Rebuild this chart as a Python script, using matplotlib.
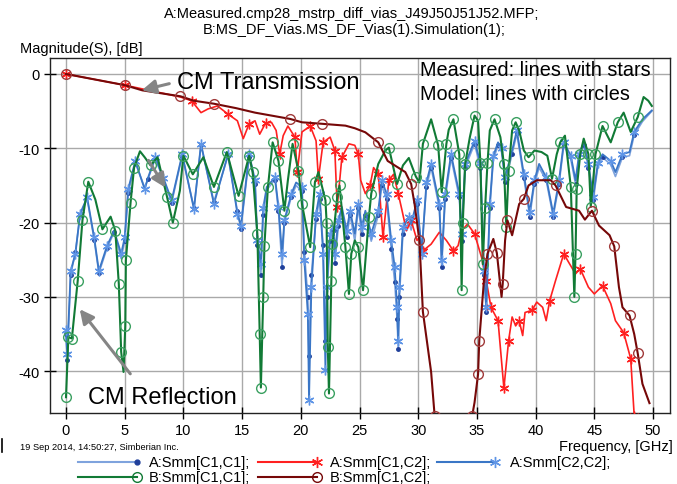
import numpy as np
import matplotlib
matplotlib.use("Agg")
import matplotlib.pyplot as plt
from matplotlib.lines import Line2D

plt.rcParams['font.family'] = ['Liberation Sans', 'DejaVu Sans']

# ---------------- data ----------------
nan = float('nan')

# B:Smm[C1,C2]  (model transmission, dark red, circles)
b12_f = [0, 5, 6.5, 9.75, 10.9, 12.6, 14.5, 16.1, 19.1, 20.1, 21.8, 23.8, 24.6, 25.5, 26.6, 27.4,
         28.9, 29.4, 29.7, 30.1, 30.4, 31.1, 31.4, 33.0, 34.6, 34.8, 35.1, 35.2, 35.6, 35.9, 36.4,
         36.7, 37.1, 37.2, 37.4, 37.6, 38.0, 38.6, 39.0, 39.4, 40.1, 41.3, 41.7, 42.6, 43.7, 44.2,
         44.8, 45.4, 46.3, 46.7, 47.1, 47.4, 48.0, 48.4, 48.7, 49.1, 49.7]
b12_v = [0, -1.5, -2.2, -3.0, -3.6, -4.0, -4.6, -5.2, -6.05, -6.5, -6.7, -6.95, -7.3, -7.85, -9.2, -11.7,
         -13.2, -14.8, -17.6, -22.4, -32.0, -40.1, -46.0, nan, -46.0, -44.2, -40.4, -35.9, -27.8, -24.2, -22.2,
         -24.1, -30.0, -28.2, -22.4, -19.7, -21.7, -17.5, -16.8, -15.0, -14.3, -14.3, -15.0, -17.9, -18.4, -19.6,
         -18.4, -20.4, -21.7, -23.2, -28.7, -31.4, -32.5, -35.0, -37.6, -41.7, -44.3]

# A:Smm[C1,C2]  (measured transmission, red, stars)
a12_f = [0, 5, 9.75, 10.7, 11.5, 12.1, 12.9, 13.8, 14.6, 15.1, 15.6, 16.1, 16.5, 17.0, 17.5, 17.9,
         18.2, 18.5, 18.9, 19.5, 19.7, 20.1, 20.8, 21.3, 21.5, 21.9, 22.5, 22.9, 23.1, 23.5, 24.1,
         24.6, 24.9, 25.1, 25.5, 25.9, 26.2, 26.6, 27.0, 27.5, 27.9, 28.3, 28.6, 29.0, 29.4, 29.9,
         30.1, 30.4, 31.1, 31.8, 32.4, 33.0, 33.4, 33.7, 34.2, 34.8, 35.4, 35.8, 36.2, 36.8, 37.3,
         37.7, 38.0, 38.3, 38.6, 38.9, 39.1, 39.7, 40.1, 40.6, 40.9, 41.2, 41.7, 42.4, 42.8, 43.4,
         43.8, 44.5, 45.0, 45.7, 46.4, 46.8, 47.5, 48.1, 48.4]
a12_v = [0, -1.5, -3.1, -3.6, -5.2, -4.7, -4.3, -5.4, -6.3, -8.7, -6.7, -6.3, -8.1, -6.6, -6.5, -7.6,
         -10.8, -8.3, -7.0, -8.5, -13.2, -7.8, -7.0, -9.0, -14.1, -9.2, -8.5, -10.3, -17.9, -11.2, -9.4,
         -9.6, -10.8, -14.3, -16.1, -15.0, -12.6, -13.5, -22.0, -14.3, -13.5, -16.1, -18.2, -21.1, -19.7, -22.4,
         -22.0, -23.8, -22.9, -21.3, -22.4, -23.8, -23.1, -21.1, -20.2, -21.5, -24.7, -27.8, -31.4, -33.2, -42.3,
         -35.9, -32.7, -33.9, -33.2, -35.2, -32.1, -31.8, -30.7, -31.4, -33.2, -30.5, -27.8, -24.2, -25.3, -26.9,
         -26.2, -28.7, -29.6, -28.5, -30.9, -33.2, -34.8, -38.3, -46.0]

# B:Smm[C1,C1]  (model reflection, green, circles)
b11_f = [0, 0.2, 0.5, 1.0, 1.4, 1.9, 2.5, 3.1, 3.8, 4.2, 4.5, 4.7, 4.9, 5.05, 5.1, 5.5, 5.8, 6.3,
         6.7, 7.2, 7.8, 8.6, 9.1, 9.7, 10.0, 10.8, 11.7, 12.6, 13.7, 14.7, 15.6, 15.9, 16.3, 16.5,
         16.6, 16.8, 16.9, 17.2, 17.6, 18.1, 18.6, 18.9, 19.3, 19.8, 20.1, 20.8, 21.2, 21.5, 22.1,
         22.2, 22.3, 22.4, 22.6, 22.7, 23.1, 23.3, 23.8, 24.1, 24.3, 24.6, 24.9, 25.3, 25.8, 26.0,
         26.6, 27.2, 27.5, 28.2, 28.7, 29.2, 29.8, 30.1, 30.4, 31.1, 31.7, 32.0, 32.4, 32.6, 33.0,
         33.5, 33.7, 33.8, 34.0, 34.4, 34.8, 35.1, 35.3, 35.5, 35.7, 35.9, 36.1, 36.5, 37.0, 37.3,
         37.5, 37.7, 38.0, 38.3, 38.6, 39.0, 39.4, 39.9, 40.5, 41.0, 41.4, 41.8, 42.1, 42.5, 43.0,
         43.3, 43.4, 43.5, 43.8, 44.1, 44.5, 44.7, 45.1, 45.7, 46.4, 47.0, 47.5, 48.1, 48.7, 49.2,
         49.6, 49.9]
b11_v = [-43.5, -35.4, -35.6, -27.8, -19.7, -14.5, -16.9, -20.9, -19.2, -21.1, -28.3, -37.4, -40.1, -33.9, -25.1, -17.3, -12.6, -10.4,
         -11.2, -12.3, -11.2, -16.5, -20.0, -15.7, -11.0, -13.5, -11.2, -15.2, -10.5, -16.4, -11.0, -13.2, -21.5, -35.0,
         -42.2, -30.0, -23.1, -15.2, -9.2, -11.7, -18.4, -14.3, -9.4, -13.0, -17.5, -23.3, -14.6, -13.2, -17.0,
         -20.0, -36.8, -43.0, -27.8, -22.9, -16.6, -15.0, -23.3, -29.6, -24.2, -22.4, -23.3, -29.1, -19.3, -16.1,
         -12.1, -10.3, -9.9, -14.8, -12.3, -11.3, -13.8, -14.6, -9.4, -6.1, -9.6, -15.9, -9.4, -7.5, -6.1,
         -10.8, -29.1, -20.0, -12.1, -8.5, -5.6, -6.3, -12.0, -25.6, -18.0, -12.0, -7.6, -6.1, -8.5, -12.1,
         -20.6, -13.0, -7.6, -6.5, -7.6, -10.3, -11.2, -10.3, -10.5, -11.0, -14.1, -10.8, -9.2, -8.3, -15.2,
         -30.0, -24.2, -15.5, -10.8, -8.7, -10.8, -17.9, -10.8, -7.0, -9.2, -6.5, -5.2, -7.8, -5.8, -3.1,
         -3.6, -4.3]

# A:Smm[C2,C2]  (measured reflection port 2, blue, stars)
a22_f = [0, 0.1, 0.4, 0.8, 1.2, 1.8, 2.4, 2.8, 3.5, 4.1, 4.7, 5.0, 5.3, 5.9, 6.7, 7.0, 7.6, 8.3,
         9.0, 9.9, 10.9, 11.5, 12.6, 13.8, 14.6, 14.9, 15.6, 16.1, 16.3, 16.6, 16.8, 17.1, 17.8, 18.1,
         18.4, 18.6, 19.2, 19.6, 20.1, 20.3, 20.6, 20.7, 20.9, 21.3, 21.6, 21.9, 22.1, 22.2, 22.5,
         22.8, 22.9, 23.2, 23.5, 23.9, 24.2, 24.6, 24.9, 25.2, 25.5, 26.0, 26.6, 26.9, 27.3, 27.7,
         28.0, 28.2, 28.3, 28.4, 28.7, 29.2, 29.4, 29.9, 30.3, 30.7, 31.1, 31.8, 32.0, 32.3, 32.8,
         33.5, 33.7, 34.0, 34.8, 35.3, 35.6, 35.8, 36.1, 36.4, 36.8, 37.1, 37.4, 38.0, 38.4, 39.0,
         39.5, 39.9, 40.3, 40.9, 41.5, 42.0, 42.4, 43.0, 43.4, 43.7, 44.1, 44.5, 44.9, 45.3, 45.7,
         46.4, 46.8, 47.4, 48.0, 48.4, 49.1, 49.9]
a22_v = [-34.5, -37.7, -26.5, -24.2, -18.8, -16.6, -22.0, -26.5, -23.1, -21.1, -24.2, -22.0, -15.5, -11.7, -15.5, -13.9, -11.2, -14.0,
         -17.0, -10.8, -18.2, -9.4, -17.5, -10.8, -18.8, -20.4, -10.8, -14.3, -22.4, -25.6, -18.0, -15.2, -13.9, -17.9,
         -24.2, -19.7, -16.1, -14.6, -15.2, -25.1, -32.3, -43.9, -28.7, -18.8, -16.1, -24.2, -39.9, -28.7, -21.5,
         -20.6, -24.2, -19.7, -17.9, -21.1, -18.4, -21.5, -17.5, -20.6, -18.4, -21.5, -18.4, -14.3, -16.1, -22.4,
         -26.0, -31.4, -35.9, -28.7, -20.6, -19.3, -20.2, -17.0, -24.2, -14.6, -12.1, -17.5, -25.1, -16.1, -10.8,
         -16.1, -21.5, -12.1, -9.0, -12.0, -26.5, -31.4, -17.5, -11.0, -9.2, -10.0, -13.9, -10.3, -7.6, -13.5,
         -18.6, -14.3, -12.1, -13.9, -18.8, -14.3, -9.2, -11.0, -14.3, -10.8, -9.2, -12.1, -16.6, -12.0, -10.8,
         -11.7, -13.2, -10.8, -10.5, -7.8, -6.1, -4.9]

# A:Smm[C1,C1]  (measured reflection port 1, light blue, dots)
a11_f = a22_f
a11_v = [-35.0, -38.5, -27.0, -24.0, -19.0, -16.8, -22.3, -26.8, -23.4, -21.3, -24.8, -22.5, -16.0, -11.9, -15.3, -14.1, -11.4, -14.2,
         -17.3, -11.0, -18.0, -9.6, -17.2, -11.0, -18.5, -20.8, -11.2, -14.8, -23.0, -27.0, -19.0, -15.6, -14.2, -18.5,
         -26.0, -20.0, -16.5, -15.0, -15.8, -24.0, -30.0, -38.0, -27.0, -19.5, -16.8, -23.0, -36.0, -30.0, -22.5,
         -21.0, -25.5, -20.5, -18.5, -22.0, -19.0, -22.5, -18.0, -21.5, -19.0, -22.5, -19.0, -15.0, -16.8, -23.5,
         -28.0, -33.0, -37.0, -30.0, -21.5, -20.0, -21.0, -17.5, -23.5, -15.2, -12.6, -18.0, -26.0, -16.8, -11.3,
         -16.6, -22.5, -12.6, -9.4, -12.6, -27.0, -32.0, -18.0, -11.5, -9.6, -10.5, -14.5, -10.8, -8.0, -14.0,
         -19.2, -14.8, -12.6, -14.3, -19.2, -14.8, -9.6, -11.5, -14.8, -11.2, -9.6, -12.6, -17.0, -12.5, -11.2,
         -12.2, -13.8, -11.2, -11.0, -8.2, -6.4, -5.0]

x_ticks = [0, 5, 10, 15, 20, 25, 30, 35, 40, 45, 50]
y_ticks = [0, -10, -20, -30, -40]

# ---------------- styles ----------------
C_A11 = '#7fa3dd'
C_A11M = '#1f3f9a'
C_A12 = '#ff2020'
C_A22 = '#3a76c6'
C_A22M = '#5f95e6'
C_B11 = '#117a35'
C_B11M = '#3aa060'
C_B12 = '#760808'
C_B12M = '#a03a3a'
STAR = (6, 2, 0)

W, H = 677, 485
fig = plt.figure(figsize=(W / 100, H / 100), dpi=100)
L, R, T, B = 50, 670, 59, 414
ax = fig.add_axes([L / W, 1 - B / H, (R - L) / W, (B - T) / H])

x0px, pxg = 66, 11.74
ax.set_xlim((L - x0px) / pxg, (R - x0px) / pxg)
ax.set_ylim((75 - B) / 7.43, (75 - T) / 7.43)

ax.grid(True, color='#a9a9a9', lw=1.0)
ax.set_axisbelow(True)

ax.plot(a11_f, a11_v, color=C_A11, lw=1.2, marker='o', ms=2.5, mfc=C_A11M, mec=C_A11M,
        markevery=0.05, zorder=2)
ax.plot(a12_f, a12_v, color=C_A12, lw=1.2, marker=STAR, ms=7, mec=C_A12, mew=1.0,
        markevery=0.06, zorder=3)
ax.plot(a22_f, a22_v, color=C_A22, lw=1.3, marker=STAR, ms=7, mec=C_A22M, mew=1.0,
        markevery=0.045, zorder=3)
ax.plot(b11_f, b11_v, color=C_B11, lw=1.5, marker='o', ms=7, mfc='none', mec=C_B11M, mew=1.0,
        markevery=0.06, zorder=4)
ax.plot(b12_f, b12_v, color=C_B12, lw=1.5, marker='o', ms=7, mfc='none', mec=C_B12M, mew=1.0,
        markevery=0.075, zorder=5)

ax.set_xticks(x_ticks)
ax.set_yticks(y_ticks)
ax.set_xticklabels([str(v) for v in x_ticks])
ax.set_yticklabels([str(v) for v in y_ticks])
ax.tick_params(direction='inout', length=9, width=1, labelsize=10.5, colors='black', pad=3)
for s in ax.spines.values():
    s.set_linewidth(1.0)
    s.set_color('#222222')

# ---------------- texts ----------------
fig.text(352 / W, 1 - 14 / H, 'A:Measured.cmp28_mstrp_diff_vias_J49J50J51J52.MFP;', ha='center', va='center', fontsize=10.5)
fig.text(354 / W, 1 - 30 / H, 'B:MS_DF_Vias.MS_DF_Vias(1).Simulation(1);', ha='center', va='center', fontsize=10.5)
fig.text(20 / W, 1 - 49 / H, 'Magnitude(S), [dB]', ha='left', va='center', fontsize=10.5)
fig.text(673 / W, 1 - 447 / H, 'Frequency, [GHz]', ha='right', va='center', fontsize=10.5)
fig.text(20 / W, 1 - 448 / H, '19 Sep 2014, 14:50:27, Simberian Inc.', ha='left', va='center', fontsize=6.7)
fig.add_artist(Line2D([1.5 / W, 1.5 / W], [1 - 440 / H, 1 - 453 / H], color='black', lw=1.2))

fig.text(177 / W, 1 - 83 / H, 'CM Transmission', ha='left', va='center', fontsize=17)
fig.text(88 / W, 1 - 398 / H, 'CM Reflection', ha='left', va='center', fontsize=17)
fig.text(420 / W, 1 - 71 / H, 'Measured: lines with stars', ha='left', va='center', fontsize=14.3)
fig.text(420 / W, 1 - 95 / H, 'Model: lines with circles', ha='left', va='center', fontsize=14.3)

arrow_kw = dict(arrowstyle='-|>,head_length=0.7,head_width=0.35', color='#858585', lw=2.2)
for (tx, ty), (hx, hy) in [((172, 84), (139, 92)), ((147, 159), (167, 191)), ((132, 377), (78, 308))]:
    fig.add_artist(matplotlib.patches.FancyArrowPatch(
        (tx / W, 1 - ty / H), (hx / W, 1 - hy / H), transform=fig.transFigure,
        mutation_scale=12, **arrow_kw))

# ---------------- legend (drawn manually) ----------------
entries = [
    (78, 137, 149, 463, 'A:Smm[C1,C1];', C_A11, dict(marker='o', ms=3.5, mfc=C_A11M, mec=C_A11M)),
    (258, 317, 330, 463, 'A:Smm[C1,C2];', C_A12, dict(marker=STAR, ms=8, mec=C_A12, mew=1.0)),
    (437, 495, 510, 463, 'A:Smm[C2,C2];', C_A22, dict(marker=STAR, ms=8, mec=C_A22M, mew=1.0)),
    (78, 137, 149, 478, 'B:Smm[C1,C1];', C_B11, dict(marker='o', ms=7, mfc='none', mec=C_B11, mew=1.0)),
    (258, 317, 330, 478, 'B:Smm[C1,C2];', C_B12, dict(marker='o', ms=7, mfc='none', mec=C_B12, mew=1.0)),
]
for x1, x2, xt, y, label, col, mk in entries:
    fig.add_artist(Line2D([x1 / W, x2 / W], [1 - y / H, 1 - y / H], color=col, lw=1.5))
    fig.add_artist(Line2D([x2 / W], [1 - y / H], color=col, lw=0, **mk))
    fig.text(xt / W, 1 - y / H, label, ha='left', va='center', fontsize=10.5)

fig.savefig('out.png', dpi=100)
